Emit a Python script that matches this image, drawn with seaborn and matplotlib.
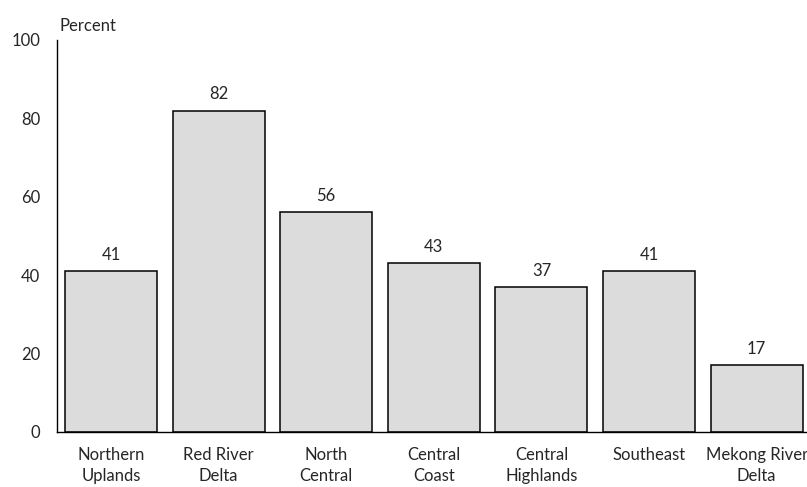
import pandas as pd
import matplotlib.pyplot as plt
import seaborn as sns

# data
regions = ['Northern\nUplands', 'Red River\nDelta', 'North\nCentral', 'Central\nCoast',
           'Central\nHighlands', 'Southeast', 'Mekong River\nDelta']
percent = [41, 82, 56, 43, 37, 41, 17]
yticks = [0, 20, 40, 60, 80, 100]

df = pd.DataFrame({'region': regions, 'percent': percent})

sns.set_style('white')
plt.rcParams['font.family'] = ['Lato', 'DejaVu Sans']

fig = plt.figure(figsize=(8.07, 4.87), dpi=100)
ax = fig.add_axes([57 / 807, 55 / 487, 750 / 807, 392 / 487])

sns.barplot(data=df, x='region', y='percent', ax=ax, color='#dcdcdc',
            edgecolor='black', linewidth=1.1, width=0.855, saturation=1)

for i, v in enumerate(percent):
    ax.annotate(f'{v}', (i, v), xytext=(0, 6), textcoords='offset points',
                ha='center', va='bottom', fontsize=12)

ax.set_ylim(0, 100)
ax.set_xlim(-0.502, 6.468)
ax.set_yticks(yticks)
ax.set_xlabel('')
ax.set_ylabel('')
ax.tick_params(axis='both', length=0, labelsize=12)
ax.tick_params(axis='y', pad=12)
ax.tick_params(axis='x', pad=11)
for lbl in ax.get_xticklabels():
    lbl.set_linespacing(1.35)
for s in ['top', 'right']:
    ax.spines[s].set_visible(False)
ax.spines['left'].set_color('black')
ax.spines['bottom'].set_color('black')
ax.spines['left'].set_linewidth(1.0)
ax.spines['bottom'].set_linewidth(1.0)

ax.text(0.003, 1.015, 'Percent', transform=ax.transAxes, ha='left', va='bottom', fontsize=12)

fig.savefig('out.png', dpi=100)
